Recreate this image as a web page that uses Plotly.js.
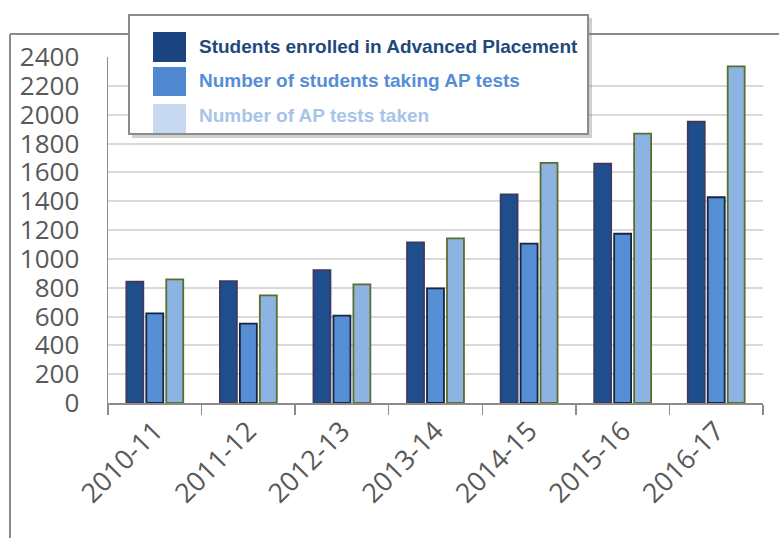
<!DOCTYPE html>
<html>
<head>
<meta charset="utf-8">
<script src="https://cdn.plot.ly/plotly-3.0.1.min.js"></script>
<style>html,body{margin:0;padding:0;background:#fff;}#chart{width:779px;height:538px;}</style>
</head>
<body>
<div id="chart"></div>
<script>
const years = ["2010-11","2011-12","2012-13","2013-14","2014-15","2015-16","2016-17"];
const enrolled = [841, 846, 922, 1114, 1447, 1660, 1951];
const takingTests = [622, 550, 606, 795, 1105, 1174, 1427];
const testsTaken = [858, 747, 823, 1142, 1665, 1868, 2335];
const seriesNames = ["Students enrolled in Advanced Placement","Number of students taking AP tests","Number of AP tests taken"];
const yTicks = [0,200,400,600,800,1000,1200,1400,1600,1800,2000,2200,2400];

const W = 779, H = 538;
const M = {l:108, r:16, t:57, b:135};
const pw = W - M.l - M.r, ph = H - M.t - M.b;
const px = x => (x - M.l) / pw;
const py = y => (H - M.b - y) / ph;

const fills = ["#1F4E8C", "#558ED5", "#8DB3E2"];
const outlines = ["#3F3A5E", "#17253F", "#5A6E2E"];
const legendSw = ["#1A4480", "#5088D2", "#C6D9F1"];
const legendTxt = ["#1F497D", "#558ED5", "#A7C4E8"];
const vals = [enrolled, takingTests, testsTaken];

const traces = vals.map((v,i)=>({
  type:"bar", x:years, y:v, name:seriesNames[i],
  marker:{color:fills[i], line:{color:outlines[i], width:1.8}},
  hoverinfo:"x+y"
}));

const shapes = [
  {type:"line", xref:"paper", yref:"paper", x0:px(10), x1:px(10), y0:py(34), y1:py(540), line:{color:"#8C8C8C", width:2}},
  {type:"line", xref:"paper", yref:"paper", x0:px(10), x1:px(781), y0:py(34), y1:py(34), line:{color:"#8C8C8C", width:2}},
  {type:"rect", xref:"paper", yref:"paper", x0:px(132), x1:px(592), y0:py(18), y1:py(138), line:{width:0}, fillcolor:"rgba(120,120,120,0.35)", layer:"above"},
  {type:"rect", xref:"paper", yref:"paper", x0:px(129), x1:px(588), y0:py(15), y1:py(134), line:{color:"#8C8C8C", width:2}, fillcolor:"#FFFFFF", layer:"above"}
];
const swY = [[32,62],[67,96],[104,133]];
swY.forEach((r,i)=>{
  shapes.push({type:"rect", xref:"paper", yref:"paper", x0:px(153), x1:px(186), y0:py(r[0]), y1:py(r[1]), line:{width:0}, fillcolor:legendSw[i], layer:"above"});
});
const txtY = [46, 80, 115];
const annotations = seriesNames.map((n,i)=>({
  xref:"paper", yref:"paper", x:px(197), y:py(txtY[i]), xanchor:"left", yanchor:"middle",
  text:"<b>"+n+"</b>", showarrow:false,
  font:{family:"Liberation Sans, Arial, sans-serif", size:19, color:legendTxt[i]}
}));

const layout = {
  width:W, height:H, autosize:false,
  margin:M,
  paper_bgcolor:"#FFFFFF", plot_bgcolor:"#FFFFFF",
  showlegend:false,
  barmode:"group", bargap:0.36, bargroupgap:0.15,
  font:{family:"Open Sans, sans-serif", color:"#595959"},
  xaxis:{
    type:"category", tickangle:-45, tickson:"boundaries",
    ticks:"outside", ticklen:10, tickwidth:1.5, tickcolor:"#8C8C8C",
    showline:true, linecolor:"#8C8C8C", linewidth:1.5,
    showgrid:false, zeroline:false,
    tickfont:{family:"Open Sans, sans-serif", size:27, color:"#595959"},
    fixedrange:true
  },
  yaxis:{
    range:[0,2400], tickvals:yTicks, ticktext:yTicks.map(String),
    showgrid:true, gridcolor:"#D9D9D9", gridwidth:2,
    showline:true, linecolor:"#8C8C8C", linewidth:1.5,
    zeroline:false, ticks:"", ticklabelstandoff:22,
    tickfont:{family:"Open Sans, sans-serif", size:26, color:"#595959"},
    fixedrange:true
  },
  shapes:shapes,
  annotations:annotations
};
Plotly.newPlot("chart", traces, layout, {displayModeBar:false, staticPlot:true});
</script>
</body>
</html>
